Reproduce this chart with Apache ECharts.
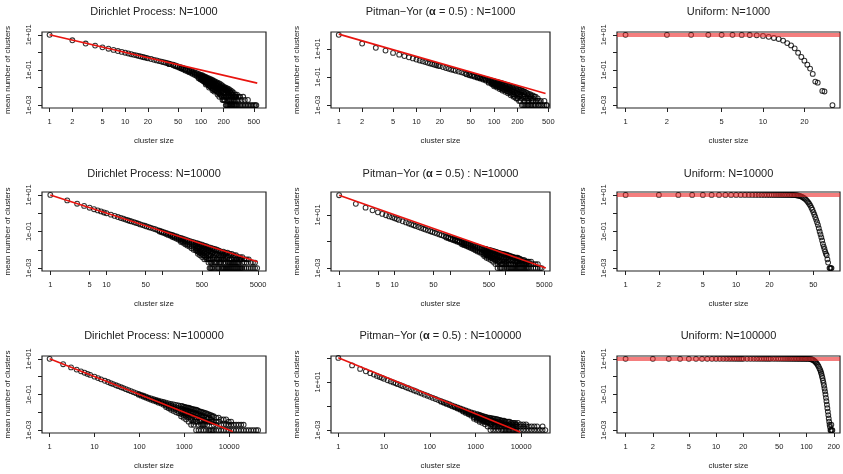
<!DOCTYPE html>
<html>
<head>
<meta charset="utf-8">
<script src="https://cdn.jsdelivr.net/npm/echarts@6/dist/echarts.min.js"></script>
<style>
  html, body { margin: 0; background: #fff; }
  #chart { width: 843px; height: 474px; }
</style>
</head>
<body>
<div id="chart"></div>
<script>
// mean number of clusters by cluster size; each row: [size, mean, mean, ...] (points read at that size)
const dp1000 = [[1,10],[2,4.9],[3,3.2],[4,2.45],[5,1.95],[6,1.62],[7,1.38],[8,1.2],[9,1.07],[10,0.96],[11,0.87],[12,0.79],[13,0.73],[14,0.68],[15,0.63],[16,0.59],[17,0.55],[18,0.52],[19,0.49],[20,0.46],[22,0.42],[24,0.38],[26,0.35],[28,0.32],[30,0.3],
  [32,.28],[34,.26],[36,.245],[38,.23,.215],[40,.215],[43,.2,.185],[46,.18,.165],[49,.165,.15],[52,.15,.135],[55,.14,.12,.13],[58,.13,.11],[62,.115,.095,.105],[66,.105,.085],[70,.095,.075,.085],[74,.088,.068],[78,.08,.06,.07],
  [83,.072,.052,.062],[88,.066,.045,.055],[93,.06,.04,.05,.034],[98,.054,.036,.045,.03],[104,.05,.032,.04,.026],[110,.045,.028,.036,.022],[116,.04,.024,.032,.019,.015],[122,.036,.021,.028,.016],[128,.033,.018,.025,.013,.01],
  [135,.03,.016,.022,.011],[142,.027,.014,.019,.009,.007],[150,.024,.012,.017,.008,.006],[158,.021,.01,.015,.007],[166,.019,.009,.013,.006,.004],[175,.017,.008,.011,.005,.003],[184,.015,.007,.01,.004],[193,.013,.006,.009,.003,.002],
  [203,.011,.005,.008,.003,.002],[213,.01,.005,.007,.003,.001],[224,.009,.004,.006,.002,.001],[235,.008,.004,.005,.002,.001],[247,.007,.003,.005,.002,.001],[259,.006,.003,.004,.001],[272,.005,.003,.002,.001],[286,.004,.002,.003,.001],
  [300,.004,.002,.001],[315,.003,.002,.001],[330,.003,.001],[345,.002,.001],[362,.003,.001],[380,.002,.001],[398,.001],[418,.001,.002],[438,.001],[460,.001],[482,.001],[505,.001],[525,.001],[540,.001],
  [101,.047,.035,.028],[107,.042,.03,.024],[113,.038,.026,.02],[119,.034,.022,.017],[125,.03,.019,.014],[131,.027,.017,.012],[138,.025,.014,.01],[146,.022,.012,.008],[154,.019,.011,.007],[162,.017,.009,.006],
  [170,.015,.008,.005],[179,.013,.007,.004],[188,.011,.006,.003],[198,.01,.005,.002],[208,.009,.004,.002],[218,.008,.003,.001],[229,.007,.003,.001],[241,.006,.002,.001],[253,.005,.002,.001],[265,.004,.002,.001],[279,.003,.001],[293,.003,.001]];

const py1000 = [[1,100],[2,24],[3,12],[4,7.6],[5,5.2],[6,3.9],[7,3.1],[8,2.5],[9,2.1],[10,1.75],[11,1.5],[12,1.3],[13,1.15],[14,1.02],[15,0.92],[16,0.83],[17,0.76],[18,0.69],[19,0.64],[20,0.59],[22,0.51],[24,0.44],[26,0.39],[28,0.34],[30,0.31],[32,0.28],[35,0.245],[38,0.215],[41,0.19],
  [44,.17,.155],[48,.15,.135],[52,.135,.12],[56,.12,.105],[61,.105,.09,.098],[66,.095,.078,.086],[72,.084,.066,.075],[78,.074,.056,.065],[85,.065,.047,.056,.04],[92,.058,.04,.049,.033],
  [100,.051,.034,.042,.027,.022],[109,.045,.029,.037,.023,.018],[118,.04,.024,.032,.019,.014],[128,.035,.02,.027,.015,.011],[139,.03,.017,.023,.012,.009],[151,.026,.014,.019,.01,.007],[164,.022,.011,.016,.008,.005],
  [178,.019,.009,.013,.006,.004],[193,.016,.007,.011,.005,.003],[210,.013,.006,.009,.004,.002],[228,.011,.005,.008,.003,.001],[247,.009,.004,.006,.002,.001],[268,.007,.003,.005,.002,.001],[291,.006,.003,.004,.001],
  [316,.005,.002,.003,.001],[343,.004,.002,.001],[365,.003,.002,.001],[380,.002,.001],[400,.002,.001],[420,.001],[445,.001,.002],[470,.001],[480,.001],
  [96,.052,.038,.03],[104,.047,.032,.025],[113,.042,.027,.02],[123,.037,.023,.016],[133,.032,.019,.013],[145,.028,.016,.01],[157,.024,.013,.008],[171,.02,.01,.006],[185,.017,.008,.004],[201,.014,.006,.003],
  [219,.012,.005,.002],[237,.01,.004,.001],[257,.008,.003,.001],[279,.006,.002,.001],[303,.005,.002,.001],[330,.004,.001]];

const un1000 = [[1,10],[2,10],[3,10],[4,10],[5,10],[6,10],[7,9.9],[8,9.7],[9,9.3],[10,8.7],[11,7.7],[12,6.6],[13,5.8],[14,4.7],[15,3.4],[16,2.5],[17,1.7],[18,0.95],[19,0.55],[20,0.34],[21,0.2],[22,0.12],[23,0.06],[24,0.022],[25,0.019],[27,0.0065],[28,0.006],[32,0.001]];

const dp10000 = [[1,10],[2,5],[3,3.3],[4,2.5],[5,2],[6,1.65],[7,1.42],[8,1.25],[9,1.1],[10,1],[12,0.83],[14,0.71],[16,0.62],[18,0.55],[20,0.5],[22,0.45],[24,0.41],[26,0.38],[28,0.355],[31,0.32],[34,0.29],[37,0.27],[40,0.245],[44,0.225],[48,0.205],[52,0.19],[57,0.17],[62,0.158],[68,0.144],[74,0.133],[81,0.12],
  [88,.11,.1],[96,.1,.09],[105,.092,.082],[115,.084,.072],[125,.077,.065],[137,.07,.058,.064],[150,.064,.05,.057],[163,.058,.045,.052],[178,.053,.04,.046],[194,.048,.035,.041],
  [212,.044,.031,.037,.027],[231,.04,.028,.034,.024],[252,.037,.024,.03,.02],[275,.034,.021,.027,.017],[300,.031,.019,.024,.015],[327,.028,.016,.022,.012],[357,.026,.014,.019,.01],[390,.024,.012,.017,.009],
  [425,.022,.011,.015,.008,.006],[463,.02,.009,.014,.007,.005],[505,.019,.008,.012,.006,.004],[551,.017,.007,.011,.005,.003],[601,.016,.006,.01,.004,.003],[655,.014,.005,.009,.003,.002],[714,.013,.005,.008,.003,.002,.001],
  [779,.012,.004,.007,.003,.001],[850,.011,.004,.006,.002,.001],[927,.01,.003,.006,.002,.001],[1011,.009,.003,.005,.002,.001],[1102,.008,.003,.005,.002,.001],[1202,.008,.003,.005,.002,.001],[1311,.007,.004,.002,.001],
  [1430,.007,.004,.002,.001],[1560,.006,.003,.002,.001],[1700,.006,.003,.002,.001],[1855,.005,.003,.002,.001],[2023,.005,.003,.002,.001],[2206,.004,.002,.001],[2406,.004,.003,.001],[2624,.004,.002,.001],
  [2862,.003,.002,.001],[3121,.003,.002,.001],[3404,.003,.001],[3712,.002,.001],[4049,.002,.001],[4416,.002,.001],[4816,.001],
  [405,.021,.013,.009],[444,.019,.012,.007],[484,.017,.01,.006],[528,.016,.009,.005],[576,.015,.008,.004],[628,.013,.007,.003],[684,.012,.006,.003,.001],[746,.011,.006,.002,.001],[814,.01,.005,.002],[888,.009,.005,.002],
  [968,.009,.004,.001],[1056,.008,.004,.002],[1152,.007,.004,.001],[1256,.006,.003,.001],[1370,.006,.003,.001],[1495,.005,.002,.001],[1630,.005,.002,.001],[1778,.004,.002,.001],[1940,.004,.002,.001],[2115,.003,.002,.001],
  [2306,.003,.002,.001],[2515,.003,.001]];

const py10000 = [[1,300],[2,68],[3,35],[4,22],[5,15.5],[6,11.8],[7,9.4],[8,7.7],[9,6.5],[10,5.5],[11,4.8],[12,4.2],[14,3.3],[16,2.7],[18,2.25],[20,1.92],[22,1.66],[24,1.45],[27,1.22],[30,1.04],[33,0.9],[36,0.79],[40,0.68],[44,0.59],[48,0.52],[53,0.45],[58,0.39],[64,0.34],[70,0.3],[77,0.26],
  [85,.235,.2],[93,.205,.175],[102,.18,.15],[112,.16,.13],[123,.14,.112,.125],[135,.125,.097,.11],[148,.11,.083,.096],[163,.097,.072,.084,.062],[179,.085,.062,.073,.053],[196,.075,.053,.064,.045],
  [215,.066,.045,.055,.038],[236,.058,.038,.048,.032],[259,.051,.032,.041,.027],[284,.045,.027,.036,.022],[312,.04,.023,.031,.018],[342,.036,.019,.027,.015],[375,.032,.016,.023,.012],
  [411,.029,.014,.02,.01,.008],[451,.026,.012,.018,.009,.006],[495,.023,.01,.016,.007,.005],[543,.021,.008,.014,.006,.004],[596,.019,.007,.012,.005,.003],[654,.017,.006,.01,.004,.002],[717,.015,.005,.009,.003,.002,.001],
  [787,.013,.004,.008,.003,.001],[863,.012,.004,.007,.002,.001],[947,.011,.003,.006,.002,.001],[1039,.01,.003,.006,.002,.001],[1140,.009,.003,.005,.002,.001],[1251,.008,.004,.002,.001],[1372,.007,.004,.002,.001],
  [1506,.006,.003,.002,.001],[1652,.006,.003,.002,.001],[1813,.005,.003,.002,.001],[1989,.004,.003,.002,.001],[2182,.004,.002,.001],[2394,.003,.002,.001],[2627,.003,.002,.001],[2882,.003,.002,.001],
  [3162,.002,.001],[3470,.002,.001],[3807,.002,.001],[4177,.001],[4470,.001],
  [431,.027,.017,.011],[473,.024,.015,.009],[519,.022,.013,.007],[569,.02,.011,.006],[625,.018,.009,.005],[685,.016,.008,.004],[751,.014,.007,.003],[824,.012,.006,.002,.001],[905,.011,.005,.002],[993,.01,.005,.002],
  [1089,.009,.004,.001],[1195,.008,.004,.001],[1311,.007,.003,.001],[1438,.006,.003,.001],[1578,.006,.003,.001],[1731,.005,.002,.001],[1900,.004,.002,.001],[2085,.004,.002,.001],[2287,.003,.002,.001],[2509,.003,.001]];

const un10000 = [[1,10],[2,10],[3,10],[4,10],[5,10],[6,10],[7,10],[8,10],[9,10],[10,10],[11,10],[12,10],[13,10],[14,10],[15,10],[16,10],[17,10],[18,10],[19,10],[20,10],[21,10],[22,10],[23,10],[24,10],[25,10],[26,10],[27,10],[28,10],[29,10],[30,10],[31,10],
  [32,9.9],[33,9.9],[34,9.8],[35,9.6],[36,9.3],[37,9],[38,8.6],[39,8.1],[40,7.5],[41,6.8],[42,6.1],[43,5.4],[44,4.6],[45,3.9],[46,3.2],[47,2.6],[48,2],[49,1.55],[50,1.15],[51,0.85],[52,0.62],[53,0.45],[54,0.32],[55,0.23],[56,0.15],[57,0.1],
  [58,0.07],[59,0.048],[60,0.032],[61,0.021],[62,0.015],[63,0.011],[64,0.008],[65,0.006],[66,0.005],[67,0.003],[68,0.002],[70,0.001],[71,0.001],[72,0.001],[73,0.001]];

const dp100000 = [[1,10],[2,5],[3,3.3],[4,2.5],[5,2],[6,1.67],[7,1.43],[8,1.25],[10,1],[12,0.83],[14,0.71],[17,0.59],[20,0.5],[23,0.43],[26,0.385],[30,0.33],[34,0.295],[39,0.255],[44,0.228],[50,0.2],[57,0.175],[65,0.154],[74,0.135],[84,0.119],
  [96,.108,.098],[109,.096,.086],[124,.085,.075],[141,.075,.066],[160,.067,.058],[182,.06,.051],[207,.054,.045],[235,.049,.04,.044],[267,.045,.035,.04],[304,.041,.031,.036],[345,.038,.027,.032],
  [392,.035,.024,.029,.02],[446,.032,.021,.026,.017],[507,.03,.018,.024,.014],[577,.028,.016,.021,.012],[656,.026,.014,.019,.01],[746,.024,.012,.017,.009],[848,.023,.011,.016,.008,.006],[964,.021,.01,.014,.007,.005],
  [1096,.019,.009,.013,.006,.004],[1246,.018,.008,.012,.005,.003],[1417,.016,.007,.011,.004,.002],[1611,.015,.006,.01,.003,.002],[1832,.014,.005,.009,.003,.001],[2083,.012,.005,.008,.002,.001],[2368,.011,.004,.007,.002,.001],
  [2692,.01,.004,.006,.002,.001],[3061,.009,.003,.005,.001],[3480,.008,.003,.005,.001],[3957,.007,.003,.004,.001],[4499,.006,.003,.002,.001],[5116,.005,.003,.002,.001],[5817,.005,.003,.001],[6614,.004,.002,.001],
  [7520,.004,.002,.001],[8550,.004,.002,.001],[9722,.003,.002,.001],[11054,.003,.002,.001],[12569,.002,.001],[14291,.002,.001],[16249,.002,.001],[18476,.002,.001],[21007,.001,.002],[23886,.001],[27159,.001],
  [30880,.001],[35111,.001],[39922,.001],[44000,.001],
  [905,.022,.015,.009],[1030,.02,.013,.008],[1170,.018,.012,.007],[1330,.017,.01,.006],[1510,.015,.009,.005],[1720,.014,.008,.004],[1955,.013,.007,.003],[2220,.011,.006,.003],[2530,.01,.005,.002],[2870,.009,.004,.002],
  [3260,.008,.004,.002],[3710,.007,.003,.001],[4220,.006,.003,.001]];

const py100000 = [[1,1000],[2,240],[3,122],[4,77],[5,54],[6,41],[7,32],[8,26],[9,22],[10,18.5],[12,14],[14,11.2],[16,9.2],[18,7.7],[20,6.6],[23,5.4],[26,4.5],[30,3.6],[34,3],[39,2.45],[45,1.98],[51,1.64],[59,1.32],[67,1.09],[77,0.89],[89,0.72],[102,0.58],[117,0.475],[134,0.385],[154,0.315],
  [177,.26,.23],[203,.21,.185],[233,.17,.15],[268,.14,.12],[307,.115,.097],[353,.095,.078,.086],[405,.078,.062,.07],[465,.064,.05,.057],[534,.053,.04,.046,.035],[613,.044,.032,.038,.027],[704,.036,.025,.03,.021],
  [808,.03,.02,.025,.016],[928,.025,.016,.02,.012,.009],[1066,.021,.012,.016,.009,.007],[1224,.018,.01,.013,.007,.005],[1405,.015,.008,.011,.006,.004],[1613,.013,.006,.009,.005,.003],[1852,.011,.005,.008,.004,.002],
  [2127,.01,.004,.007,.003,.002,.001],[2442,.009,.004,.006,.002,.001],[2804,.008,.003,.005,.002,.001],[3219,.007,.003,.005,.002,.001],[3697,.006,.003,.004,.002,.001],[4244,.006,.003,.004,.002,.001],[4873,.005,.003,.002,.001],
  [5596,.005,.003,.002,.001],[6425,.004,.003,.002,.001],[7377,.004,.002,.003,.001],[8470,.004,.002,.001],[9725,.003,.002,.001],[11166,.003,.002,.001],[12821,.003,.002,.001],[14720,.002,.001],[16900,.002,.001],
  [19405,.002,.001],[22281,.002,.001],[25583,.001],[29374,.001,.002],[33726,.001],
  [1140,.02,.014,.01],[1310,.017,.012,.008],[1500,.014,.01,.006],[1730,.012,.008,.005],[1990,.011,.007,.004],[2280,.01,.006,.003],[2620,.009,.005,.002],[3010,.008,.004,.002],[3450,.007,.004,.002],[3960,.006,.003,.001],
  [4550,.005,.003,.001],[5230,.005,.002,.001],[6000,.004,.002,.001],[6890,.004,.002,.001],[7900,.003,.002,.001]];

const un100000 = [[1,10],[2,10],[3,10],[4,10],[5,10],[6,10],[7,10],[8,10],[9,10],[10,10],[11,10],[12,10],[13,10],[14,10],[15,10],[16,10],[17,10],[18,10],[19,10],[20,10],[22,10],[24,10],[26,10],[28,10],[30,10],[32,10],[34,10],[36,10],[38,10],[40,10],
  [43,10],[46,10],[49,10],[52,10],[55,10],[58,10],[61,10],[64,10],[67,10],[70,10],[73,10],[76,10],[79,10],[82,10],[85,10],[88,10],[91,10],[94,10],[97,10],[100,10],
  [104,9.9],[108,9.8],[112,9.5],[115,9.2],[118,8.7],[121,8],[124,7.2],[127,6.3],[130,5.4],[133,4.5],[136,3.7],[139,2.9],[142,2.3],[144,1.85],[146,1.45],[148,1.1],[150,0.85],[152,0.62],[154,0.45],[156,0.32],[158,0.22],[160,0.15],[162,0.1],
  [164,0.065],[166,0.042],[168,0.027],[170,0.017],[172,0.011],[174,0.007],[176,0.0045],[178,0.003],[180,0.002],[182,0.0015],[184,0.001],[186,0.001],[188,0.002],[190,0.001],[193,0.001]];

// red reference lines: [size, mean]
const dpLine1000 = [[1,10],[555,0.018]];
const pyLine1000 = [[1,112],[460,0.0068]];
const dpLine10000 = [[1,10],[4900,0.0022]];
const pyLine10000 = [[1,300],[5300,0.001]];
const dpLine100000 = [[1,10],[12000,0.00083]];
const pyLine100000 = [[1,1050],[9500,0.0007]];
const uniformLevel = 10;

// tick values
const xTicks1000 = [1,2,5,10,20,50,100,200,500];
const xTicks10000 = [1,5,10,50,100,500,1000,5000];
const xLabels10000 = [1,5,10,50,500,5000];
const xTicks100000 = [1,10,100,1000,10000];
const xTicksU1000 = [1,2,5,10,20];
const xTicksU10000 = [1,2,5,10,20,50];
const xTicksU100000 = [1,2,5,10,20,50,100,200];
const yTicksStd = [10,1,0.1,0.01,0.001];
const yLabelsStd = [10,0.1,0.001];
const yTicksPy = [10,0.1,0.001];
const yLabelsPy = [10,0.001];
const yTicksPy100000 = [1000,10,0.1,0.001];

const FONT = '"Liberation Sans", Arial, Helvetica, sans-serif';
const colLeft = [42, 331, 617], colWidth = [224, 219, 223];
const rowTop = [32, 192, 356], rowHeight = [76, 79, 77];
const titleTop = [6, 168, 330];

const panels = [
  {r:0, c:0, title:'Dirichlet Process: N=1000', pts:dp1000, line:dpLine1000, xlim:[-0.1,2.86], ylim:[-3.16,1.16], xt:xTicks1000, xl:xTicks1000, yt:yTicksStd, yl:yLabelsStd},
  {r:0, c:1, title:'Pitman\u2212Yor ({a|\u03b1} = 0.5) : N=1000', pts:py1000, line:pyLine1000, xlim:[-0.1,2.72], ylim:[-3.2,2.2], xt:xTicks1000, xl:xTicks1000, yt:yTicksPy, yl:yTicksPy},
  {r:0, c:2, title:'Uniform: N=1000', pts:un1000, level:uniformLevel, xlim:[-0.062,1.56], ylim:[-3.16,1.16], xt:xTicksU1000, xl:xTicksU1000, yt:yTicksStd, yl:yLabelsStd},
  {r:1, c:0, title:'Dirichlet Process: N=10000', pts:dp10000, line:dpLine10000, xlim:[-0.148,3.84], ylim:[-3.16,1.16], xt:xTicks10000, xl:xLabels10000, yt:yTicksStd, yl:yLabelsStd},
  {r:1, c:1, title:'Pitman\u2212Yor ({a|\u03b1} = 0.5) : N=10000', pts:py10000, line:pyLine10000, xlim:[-0.146,3.8], ylim:[-3.22,2.72], xt:xTicks10000, xl:xLabels10000, yt:yTicksPy, yl:yLabelsPy},
  {r:1, c:2, title:'Uniform: N=10000', pts:un10000, level:uniformLevel, xlim:[-0.078,1.94], ylim:[-3.16,1.16], xt:xTicksU10000, xl:xTicksU10000, yt:yTicksStd, yl:yLabelsStd},
  {r:2, c:0, title:'Dirichlet Process: N=100000', pts:dp100000, line:dpLine100000, xlim:[-0.17,4.82], ylim:[-3.16,1.16], xt:xTicks100000, xl:xTicks100000, yt:yTicksStd, yl:yLabelsStd},
  {r:2, c:1, title:'Pitman\u2212Yor ({a|\u03b1} = 0.5) : N=100000', pts:py100000, line:pyLine100000, xlim:[-0.16,4.63], ylim:[-3.24,3.16], xt:xTicks100000, xl:xTicks100000, yt:yTicksPy100000, yl:yLabelsPy},
  {r:2, c:2, title:'Uniform: N=100000', pts:un100000, level:uniformLevel, xlim:[-0.095,2.37], ylim:[-3.16,1.16], xt:xTicksU100000, xl:xTicksU100000, yt:yTicksStd, yl:yLabelsStd}
];

const lg = v => Math.log10(v);
// rows [size, v1, v2, ...] -> log-log points
const toLog = rows => rows.flatMap(r => r.slice(1).map(v => [lg(r[0]), lg(v)]));
const fmtX = v => String(Math.round(Math.pow(10, v)));
const fmtY = v => {
  const e = Math.round(v);
  return '1e' + (e < 0 ? '-' : '+') + String(Math.abs(e)).padStart(2, '0');
};

const chart = echarts.init(document.getElementById('chart'), null, {renderer: 'canvas'});
const option = {animation: false, backgroundColor: '#fff', title: [], grid: [], xAxis: [], yAxis: [], series: []};

panels.forEach((p, i) => {
  const left = colLeft[p.c], top = rowTop[p.r], w = colWidth[p.c], h = rowHeight[p.r];
  option.title.push({
    text: p.title, left: left + w / 2, top: titleTop[p.r], textAlign: 'center', padding: 0,
    textStyle: {fontFamily: FONT, fontSize: 11, fontWeight: 'normal', color: '#222',
      rich: {a: {fontFamily: FONT, fontSize: 11, fontWeight: 'bold', color: '#222'}}}
  });
  option.grid.push({left: left, top: top, width: w, height: h, show: true, borderColor: '#222', borderWidth: 1.2,
    backgroundColor: 'transparent', containLabel: false, outerBoundsMode: 'none'});
  option.xAxis.push({
    type: 'value', gridIndex: i, min: p.xlim[0], max: p.xlim[1], position: 'bottom',
    name: 'cluster size', nameLocation: 'middle', nameGap: 29,
    nameTextStyle: {fontFamily: FONT, fontSize: 8, color: '#222'},
    axisLine: {show: false, onZero: false}, splitLine: {show: false},
    axisTick: {show: true, length: 4, lineStyle: {color: '#222', width: 1}, customValues: p.xt.map(lg)},
    axisLabel: {fontFamily: FONT, fontSize: 7.5, color: '#222', margin: 10, customValues: p.xl.map(lg), formatter: fmtX}
  });
  option.yAxis.push({
    type: 'value', gridIndex: i, min: p.ylim[0], max: p.ylim[1], position: 'left',
    name: 'mean number of clusters', nameLocation: 'middle', nameGap: 30, nameRotate: 90,
    nameTextStyle: {fontFamily: FONT, fontSize: 8, color: '#222'},
    axisLine: {show: false, onZero: false}, splitLine: {show: false},
    axisTick: {show: true, length: 4, lineStyle: {color: '#222', width: 1}, customValues: p.yt.map(lg)},
    axisLabel: {fontFamily: FONT, fontSize: 7.5, color: '#222', margin: 9, rotate: 90, customValues: p.yl.map(lg), formatter: fmtY}
  });
  option.series.push({
    type: 'scatter', xAxisIndex: i, yAxisIndex: i, data: toLog(p.pts), silent: true, z: 3,
    symbol: 'circle', symbolSize: 4.8,
    itemStyle: {color: 'rgba(0,0,0,0)', borderColor: '#000', borderWidth: 1.05}
  });
  if (p.line) {
    option.series.push({
      type: 'line', xAxisIndex: i, yAxisIndex: i, data: p.line.map(d => [lg(d[0]), lg(d[1])]), silent: true, z: 4,
      showSymbol: false, symbol: 'none', lineStyle: {color: '#e8140f', width: 1.6}
    });
  }
  if (p.level) {
    option.series.push({
      type: 'line', xAxisIndex: i, yAxisIndex: i, data: [], silent: true, z: 4,
      markLine: {silent: true, symbol: 'none', label: {show: false}, animation: false,
        lineStyle: {color: 'rgba(236,40,40,0.6)', width: 4, type: 'solid'},
        data: [{yAxis: lg(p.level)}]}
    });
  }
});

chart.setOption(option);
</script>
</body>
</html>
